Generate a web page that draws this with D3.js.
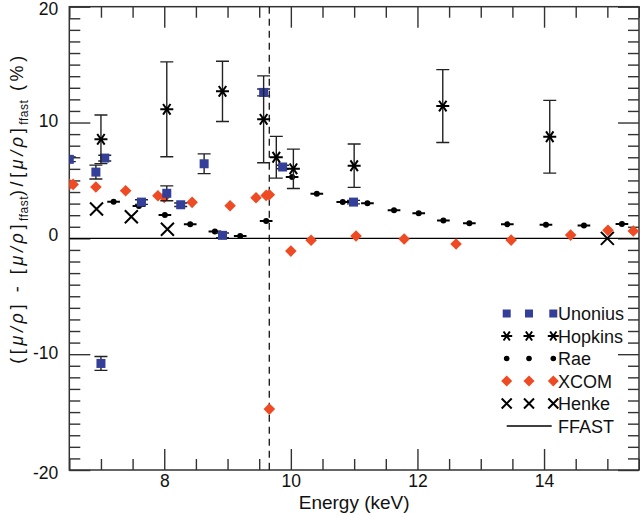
<!DOCTYPE html>
<html>
<head>
<meta charset="utf-8">
<script src="https://cdn.jsdelivr.net/npm/d3@7"></script>
<style>
  html, body { margin: 0; padding: 0; background: #fff; }
  svg { display: block; font-family: "Liberation Sans", Arial, Helvetica, sans-serif; }
</style>
</head>
<body>
<svg id="chart" width="640" height="515"></svg>
<script>
// ---------- data ----------
const edgeEnergy = 9.659;

const unoniusE   = [6.5, 6.92, 7.06, 7.64, 8.04, 8.26, 8.63, 8.92, 9.57, 9.87, 10.99, 7.0];
const unoniusV   = [6.82, 5.72, 6.93, 3.13, 3.89, 2.9, 6.44, 0.26, 12.6, 6.16, 3.13, -10.8];
const unoniusErr = [0.2, 0.6, 0.25, 0.2, 0.64, 0.15, 0.85, 0.2, 0.3, 0.15, 0.15, 0.6];

const hopkinsE   = [7.0, 8.04, 8.92, 9.57, 9.77, 10.04, 11.0, 12.4, 14.09];
const hopkinsV   = [8.55, 11.14, 12.69, 10.28, 7.0, 6.0, 6.27, 11.42, 8.77];
const hopkinsErr = [2.1, 4.1, 2.6, 3.75, 1.8, 1.7, 1.87, 3.15, 3.14];

const raeE    = [7.2, 7.6, 8.01, 8.41, 8.8, 9.2, 9.61, 10.02, 10.41, 10.82, 11.21, 11.63, 12.02, 12.41, 12.82, 13.42, 14.03, 14.63, 15.23];
const raeV    = [3.16, 2.79, 2.01, 1.21, 0.6, 0.2, 1.49, 5.29, 3.85, 3.13, 3.02, 2.42, 2.16, 1.55, 1.3, 1.21, 1.17, 1.12, 1.23];
const raeEErr = [0.1, 0.1, 0.1, 0.1, 0.1, 0.1, 0.1, 0.1, 0.1, 0.1, 0.1, 0.1, 0.1, 0.1, 0.1, 0.1, 0.1, 0.1, 0.1];

const xcomE = [6.5, 6.56, 6.92, 7.39, 7.9, 8.0, 8.44, 9.04, 9.45, 9.61, 9.66, 9.66, 10.0, 10.32, 11.03, 11.79, 12.61, 13.48, 14.42, 15.01, 15.41];
const xcomV = [4.66, 4.66, 4.43, 4.11, 3.68, 3.54, 3.11, 2.82, 3.51, 3.71, 3.77, -14.74, -1.1, -0.17, 0.2, -0.06, -0.49, -0.15, 0.28, 0.69, 0.63];

const henkeE = [6.93, 7.48, 8.05, 15.0];
const henkeV = [2.53, 1.87, 0.78, 0.0];

const xMajorTicks = [8, 10, 12, 14];
const yMajorTicks = [-20, -10, 0, 10, 20];
const legendLabels = ["Unonius", "Hopkins", "Rae", "XCOM", "Henke", "FFAST"];

// ---------- layout ----------
const svg = d3.select("#chart");
const L = 69.3, R = 639, T = 6.7, B = 470;
const x = d3.scaleLinear().domain([6.5, 15.5]).range([L, R]);
const y = d3.scaleLinear().domain([-20, 20]).range([B, T]);

const BLUE = "#333f98", RED = "#ee4a24", AXIS = "#333";
const FONT = 17.5;
const FF = '"Liberation Sans", Arial, Helvetica, sans-serif';

// clip
svg.append("defs").append("clipPath").attr("id", "plotclip")
  .append("rect").attr("x", L).attr("y", T).attr("width", R - L).attr("height", B - T);

// ---------- axes ----------
const xMinor = d3.range(6.5, 15.51, 0.5).filter(v => !xMajorTicks.includes(v));
const yMinor = d3.range(-20, 20.01, 1).filter(v => !yMajorTicks.includes(v));
const plainFmt = d => String(d);

function styleAxis(g) {
  g.select(".domain").remove();
  g.selectAll(".tick line").attr("stroke", AXIS).attr("stroke-width", 1.4);
  g.selectAll(".tick text").attr("fill", "#111").style("font-size", FONT + "px").style("font-family", FF);
}

// bottom
svg.append("g").attr("transform", `translate(0,${B})`)
  .call(d3.axisBottom(x).tickValues(xMajorTicks).tickSize(-21).tickPadding(5).tickFormat(plainFmt))
  .call(styleAxis);
svg.append("g").attr("transform", `translate(0,${B})`)
  .call(d3.axisBottom(x).tickValues(xMinor).tickSize(-11).tickFormat(""))
  .call(styleAxis);
// top
svg.append("g").attr("transform", `translate(0,${T})`)
  .call(d3.axisTop(x).tickValues(xMajorTicks).tickSize(-21).tickFormat(""))
  .call(styleAxis);
svg.append("g").attr("transform", `translate(0,${T})`)
  .call(d3.axisTop(x).tickValues(xMinor).tickSize(-11).tickFormat(""))
  .call(styleAxis);
// left
const leftAxis = svg.append("g").attr("transform", `translate(${L},0)`)
  .call(d3.axisLeft(y).tickValues(yMajorTicks).tickSize(-21).tickPadding(11).tickFormat(plainFmt))
  .call(styleAxis);
// keep end labels inside the picture, as in the reference
leftAxis.selectAll(".tick text").attr("y", d => d === 20 ? 2.5 : (d === -20 ? 3 : (d === 0 ? -3 : -1.5)));
svg.append("g").attr("transform", `translate(${L},0)`)
  .call(d3.axisLeft(y).tickValues(yMinor).tickSize(-11).tickFormat(""))
  .call(styleAxis);
// right
svg.append("g").attr("transform", `translate(${R},0)`)
  .call(d3.axisRight(y).tickValues(yMajorTicks).tickSize(-21).tickFormat(""))
  .call(styleAxis);
svg.append("g").attr("transform", `translate(${R},0)`)
  .call(d3.axisRight(y).tickValues(yMinor).tickSize(-11).tickFormat(""))
  .call(styleAxis);

// frame
svg.append("rect").attr("x", L).attr("y", T).attr("width", R - L).attr("height", B - T)
  .attr("fill", "none").attr("stroke", AXIS).attr("stroke-width", 1.5);

// ---------- reference lines ----------
const plot = svg.append("g").attr("clip-path", "url(#plotclip)");
plot.append("line").attr("x1", L).attr("x2", R).attr("y1", y(0)).attr("y2", y(0))
  .attr("stroke", "#000").attr("stroke-width", 1.3);
plot.append("line").attr("x1", x(edgeEnergy)).attr("x2", x(edgeEnergy)).attr("y1", T).attr("y2", B)
  .attr("stroke", "#000").attr("stroke-width", 1.2).attr("stroke-dasharray", "7,5");

// ---------- marker helpers ----------
function square(g, cx, cy, s) {
  g.append("rect").attr("x", cx - s / 2).attr("y", cy - s / 2).attr("width", s).attr("height", s).attr("fill", BLUE);
}
function diamond(g, cx, cy, r) {
  g.append("path").attr("d", `M${cx},${cy - r}L${cx + r},${cy}L${cx},${cy + r}L${cx - r},${cy}Z`).attr("fill", RED);
}
function star(g, cx, cy, r) {
  let d = "";
  [0, 55, 125].forEach(a => {
    const rad = a * Math.PI / 180, dx = r * Math.cos(rad), dy = r * Math.sin(rad);
    d += `M${cx - dx},${cy - dy}L${cx + dx},${cy + dy}`;
  });
  g.append("path").attr("d", d).attr("stroke", "#000").attr("stroke-width", 2).attr("fill", "none");
}
function dot(g, cx, cy, r) {
  g.append("circle").attr("cx", cx).attr("cy", cy).attr("r", r).attr("fill", "#000");
}
function cross(g, cx, cy, r) {
  g.append("path").attr("d", `M${cx - r},${cy - r}L${cx + r},${cy + r}M${cx - r},${cy + r}L${cx + r},${cy - r}`)
    .attr("stroke", "#000").attr("stroke-width", 2).attr("fill", "none");
}
function vErr(g, cx, v, e, cap) {
  const y1 = y(v + e), y2 = y(v - e);
  g.append("path").attr("d", `M${cx},${y1}L${cx},${y2}M${cx - cap},${y1}L${cx + cap},${y1}M${cx - cap},${y2}L${cx + cap},${y2}`)
    .attr("stroke", "#222").attr("stroke-width", 1.4).attr("fill", "none");
}

// ---------- series ----------
henkeE.forEach((e, i) => cross(plot, x(e), y(henkeV[i]), 6.5));
raeE.forEach((e, i) => {
  plot.append("line").attr("x1", x(e - raeEErr[i])).attr("x2", x(e + raeEErr[i]))
    .attr("y1", y(raeV[i])).attr("y2", y(raeV[i])).attr("stroke", "#000").attr("stroke-width", 2);
  dot(plot, x(e), y(raeV[i]), 3);
});
xcomE.forEach((e, i) => diamond(plot, x(e), y(xcomV[i]), 5.8));
unoniusE.forEach((e, i) => {
  vErr(plot, x(e), unoniusV[i], unoniusErr[i], 6.5);
  square(plot, x(e), y(unoniusV[i]), 9);
});
hopkinsE.forEach((e, i) => {
  vErr(plot, x(e), hopkinsV[i], hopkinsErr[i], 6.5);
  star(plot, x(e), y(hopkinsV[i]), 6.5);
});

// ---------- legend ----------
const legX = [506.7, 529, 553.3];
const legTextX = 558;
const legY0 = 313.5, legDY = 22.5;
const legend = svg.append("g");
const drawers = [
  (cx, cy) => square(legend, cx, cy, 8),
  (cx, cy) => star(legend, cx, cy, 5.5),
  (cx, cy) => dot(legend, cx, cy, 2.8),
  (cx, cy) => diamond(legend, cx, cy, 5.5),
  (cx, cy) => cross(legend, cx, cy, 5)
];
legendLabels.forEach((lab, i) => {
  const cy = legY0 + i * legDY;
  if (i < drawers.length) {
    legX.forEach(cx => drawers[i](cx, cy));
  } else {
    legend.append("line").attr("x1", 506.7).attr("x2", 551.7).attr("y1", cy).attr("y2", cy)
      .attr("stroke", "#000").attr("stroke-width", 1.3);
  }
  legend.append("text").attr("x", legTextX).attr("y", cy + 6.5)
    .style("font-size", "18px").attr("fill", "#111").text(lab);
});

// ---------- axis titles ----------
svg.append("text").attr("x", (L + R) / 2).attr("y", 508.7).attr("text-anchor", "middle")
  .style("font-size", "19px").attr("fill", "#111").text("Energy (keV)");

const yl = svg.append("text").attr("transform", "translate(23,208) rotate(-90)")
  .attr("text-anchor", "middle").style("font-size", "18px").style("letter-spacing", "3.6px").attr("fill", "#111");
const parts = [
  ["([", null], ["μ/ρ", "it"], ["] - [", null], ["μ/ρ", "it"], ["]", null], ["ffast", "sub"],
  [")/[", null], ["μ/ρ", "it"], ["]", null], ["ffast", "sub"], [" (%)", null]
];
parts.forEach(([t, k], i) => {
  const ts = yl.append("tspan").text(t);
  if (k === "it") ts.style("font-style", "italic");
  if (k === "sub") ts.style("font-size", "12px").style("letter-spacing", "0.5px").attr("dy", 5);
  else if (i > 0 && parts[i - 1][1] === "sub") ts.attr("dy", -5);
});
</script>
</body>
</html>
